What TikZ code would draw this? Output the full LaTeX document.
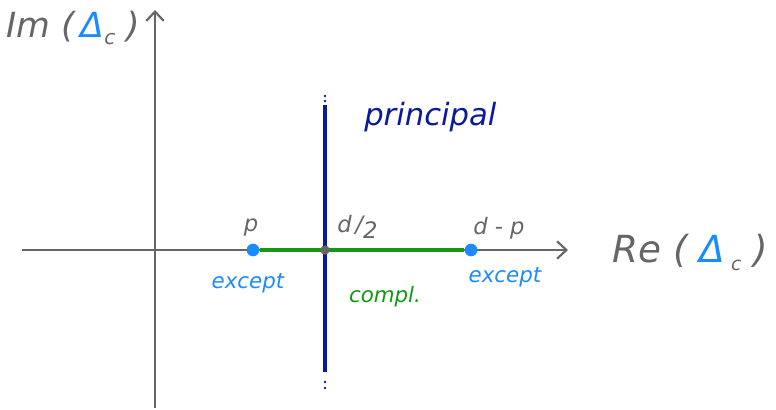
\documentclass[tikz,border=0pt]{standalone}
\usepackage{fontspec}
\setmainfont{DejaVu Sans}
\usetikzlibrary{arrows.meta}
\definecolor{axgray}{HTML}{666666}
\definecolor{ptblue}{HTML}{1A8CFF}
\definecolor{dkblue}{HTML}{0A1A99}
\definecolor{lngreen}{HTML}{119911}
\tikzset{
  axis/.style={axgray, line width=1.6pt, -{Straight Barb[length=7pt,width=13pt,line width=1.6pt]}},
  hand/.style={inner sep=0pt},
  dotpt/.style={circle, fill=#1, inner sep=0pt, minimum size=9.5pt},
}
\begin{document}
\begin{tikzpicture}[x=0.75pt,y=-0.75pt]
\useasboundingbox (0,0) rectangle (776,410);
% axes
\coordinate (xs) at (22,250);
\coordinate (xe) at (568,250);
\coordinate (ys) at (155,408);
\coordinate (ye) at (155,10);
\draw[axis] (xs) -- (xe);
\draw[axis] (ys) -- (ye);
% axis labels
\node[hand, axgray, anchor=west, font=\itshape\fontsize{26}{28}\selectfont] (imlab) at (6,28) {Im\ (\,{\color{ptblue}Δ}\raisebox{-5pt}{\fontsize{15}{16}\selectfont c}\ )};
\node[hand, axgray, anchor=west, font=\itshape\fontsize{28}{30}\selectfont] (relab) at (612,252) {Re\ (\ {\color{ptblue}Δ}\,\raisebox{-6pt}{\fontsize{14}{15}\selectfont c}\ )};
% principal line
\coordinate (pt) at (325,105);
\coordinate (pb) at (325,372);
\draw[dkblue, line width=2.6pt] (pt) -- (pb);
\foreach \y in {96,101,382,388} \fill[dkblue] (325,\y) circle (1.1pt);
\node[hand, dkblue, anchor=west, font=\itshape\fontsize{23}{25}\selectfont] (prin) at (364,117) {principal};
% complementary segment
\node[dotpt=ptblue] (p) at (253,250) {};
\node[dotpt=ptblue] (dp) at (471,250) {};
\coordinate (half) at (325,250);
\draw[lngreen, line width=3.4pt] (p) -- (half) -- (dp);
\node[dotpt=axgray, minimum size=7pt] (hdot) at (half) {};
% labels
\node[hand, axgray, font=\itshape\fontsize{17}{18}\selectfont] (plab) at (251,228) {p};
\node[hand, axgray, anchor=west, font=\itshape\fontsize{17}{18}\selectfont] (hlab) at (337,227) {d\,/\raisebox{-5pt}{2}};
\node[hand, axgray, anchor=west, font=\itshape\fontsize{17}{18}\selectfont] (dplab) at (473,228) {d\ -\ p};
\node[hand, ptblue, font=\itshape\fontsize{16}{17}\selectfont] (ex1) at (248,283) {except};
\node[hand, ptblue, font=\itshape\fontsize{16}{17}\selectfont] (ex2) at (505,277) {except};
\node[hand, lngreen, font=\itshape\fontsize{16}{17}\selectfont] (cmp) at (385,297) {compl.};
\end{tikzpicture}
\end{document}
